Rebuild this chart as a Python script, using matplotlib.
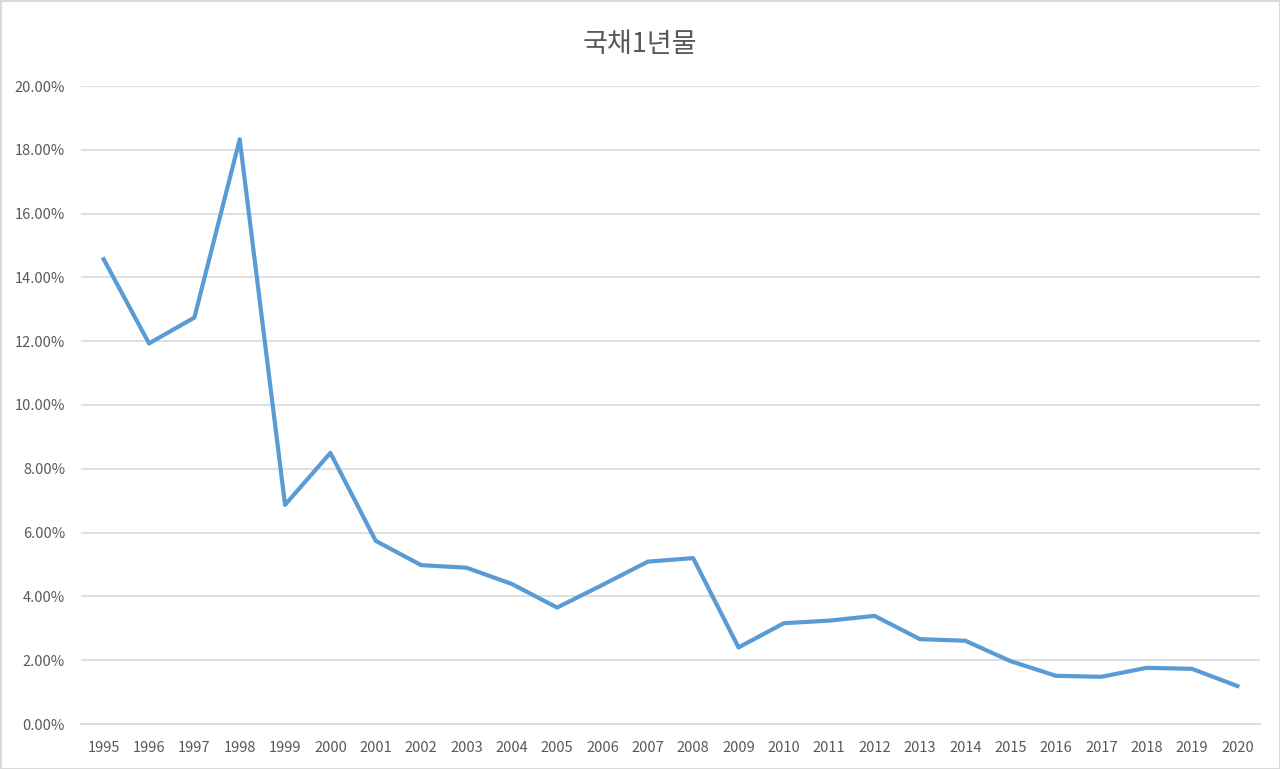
import matplotlib
matplotlib.use("Agg")
import matplotlib.pyplot as plt
from matplotlib.ticker import FuncFormatter

plt.rcParams['font.family'] = ['Noto Sans CJK KR', 'DejaVu Sans']

# -------------------------------
# Data: 1-year treasury yield (%)
# -------------------------------
years = [str(y) for y in range(1995, 2021)]
rates = [14.57, 11.93, 12.74, 18.33, 6.87, 8.50, 5.74, 4.98, 4.90, 4.39,
         3.65, 4.36, 5.09, 5.20, 2.40, 3.16, 3.24, 3.39, 2.66, 2.61,
         1.97, 1.51, 1.48, 1.76, 1.73, 1.19]
y_ticks = [0, 2, 4, 6, 8, 10, 12, 14, 16, 18, 20]
title = "국채1년물"

fig = plt.figure(figsize=(12.8, 7.69), dpi=100)
fig.patch.set_edgecolor("#D9D9D9")
fig.patch.set_linewidth(2)

ax = fig.add_axes([81 / 1280, 1 - 724 / 769, (1260 - 81) / 1280, (724 - 86) / 769])

x = list(range(len(years)))
ax.plot(x, rates, color="#5B9BD5", linewidth=3.0, solid_joinstyle="round")

ax.set_xlim(-0.5, len(years) - 0.5)
ax.set_ylim(0, 20)
ax.set_yticks(y_ticks)
ax.yaxis.set_major_formatter(FuncFormatter(lambda v, p: f"{v:.2f}%"))
ax.set_xticks(x)
ax.set_xticklabels(years)

ax.grid(axis="y", color="#D9D9D9", linewidth=1.2)
ax.set_axisbelow(True)
for s in ["top", "right", "left"]:
    ax.spines[s].set_visible(False)
ax.spines["bottom"].set_color("#D9D9D9")
ax.spines["bottom"].set_linewidth(1.2)
ax.tick_params(axis="both", length=0, labelsize=10.5, colors="#595959")
ax.tick_params(axis="y", pad=11.5)
ax.tick_params(axis="x", pad=12)

fig.text(640 / 1280, 1 - 44 / 769, title, ha="center", va="center",
         fontsize=19.5, color="#595959", fontweight="light")

fig.savefig("out.png", dpi=100, edgecolor=fig.get_edgecolor())
